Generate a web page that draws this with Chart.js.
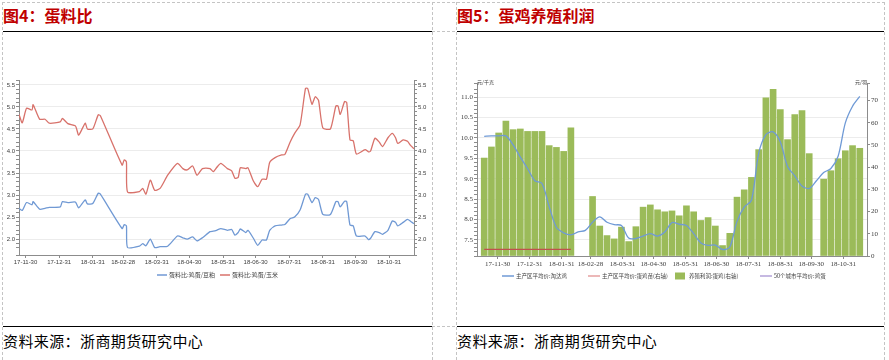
<!DOCTYPE html>
<html>
<head>
<meta charset="utf-8">
<script src="https://cdn.jsdelivr.net/npm/chart.js@4.4.1/dist/chart.umd.min.js"></script>
<style>
  body { margin: 0; width: 889px; height: 360px; background: #fff; position: relative; overflow: hidden; font-family: "Noto Sans CJK SC", sans-serif; }
  .title { position: absolute; top: 5px; font-size: 16px; font-weight: bold; color: #c00000; line-height: 20px; white-space: nowrap; }
  .src { position: absolute; top: 331px; font-size: 15px; color: #000; line-height: 20px; letter-spacing: 0.4px; white-space: nowrap; }
  canvas { position: absolute; }
  svg { position: absolute; left: 0; top: 0; }
</style>
</head>
<body>
<svg width="889" height="360">
  <g stroke="#c4c4c4" stroke-width="1" stroke-dasharray="3,2" fill="none">
    <line x1="2" y1="2.5" x2="885" y2="2.5"/>
    <line x1="2.5" y1="2" x2="2.5" y2="360"/>
    <line x1="432.5" y1="2" x2="432.5" y2="360"/>
    <line x1="456.5" y1="2" x2="456.5" y2="360"/>
    <line x1="884.5" y1="2" x2="884.5" y2="360"/>
    <line x1="432" y1="31.5" x2="456" y2="31.5"/>
    <line x1="432" y1="326.5" x2="456" y2="326.5"/>
  </g>
  <g stroke="#000" stroke-width="1.2">
    <line x1="3" y1="31.5" x2="432" y2="31.5"/>
    <line x1="457" y1="31.5" x2="884" y2="31.5"/>
    <line x1="3" y1="326.5" x2="432" y2="326.5"/>
    <line x1="457" y1="326.5" x2="884" y2="326.5"/>
  </g>
</svg>
<div class="title" style="left:3px">图4：蛋料比</div>
<div class="title" style="left:457px">图5：蛋鸡养殖利润</div>
<div class="src" style="left:3px">资料来源：浙商期货研究中心</div>
<div class="src" style="left:457px">资料来源：浙商期货研究中心</div>
<canvas id="ratioChart" width="429" height="292" style="left:3px;top:33px"></canvas>
<canvas id="profitChart" width="427" height="292" style="left:457px;top:33px"></canvas>
<script>
// 图4 蛋料比
const ratioDates = [
  '2017-11-24','2017-11-27','2017-12-01','2017-12-06','2017-12-07','2017-12-13','2017-12-18','2017-12-22',
  '2018-01-01','2018-01-03','2018-01-08','2018-01-15','2018-01-18','2018-01-24','2018-01-26','2018-01-31',
  '2018-02-05','2018-02-07','2018-02-27','2018-03-01','2018-03-03','2018-03-04','2018-03-15','2018-03-18',
  '2018-03-21','2018-03-25','2018-03-29','2018-04-03','2018-04-10','2018-04-19','2018-04-24','2018-04-28',
  '2018-05-03','2018-05-07','2018-05-12','2018-05-19','2018-05-22','2018-05-25','2018-05-29','2018-06-04',
  '2018-06-08','2018-06-11','2018-06-14','2018-06-16','2018-06-21','2018-06-23','2018-06-28','2018-07-02',
  '2018-07-06','2018-07-10','2018-07-13','2018-07-18','2018-07-24','2018-07-27','2018-08-01','2018-08-05',
  '2018-08-10','2018-08-15','2018-08-17','2018-08-21','2018-08-24','2018-08-27','2018-08-31','2018-09-07',
  '2018-09-12','2018-09-14','2018-09-16','2018-09-20','2018-09-22','2018-09-25','2018-09-28','2018-10-01',
  '2018-10-09','2018-10-12','2018-10-14','2018-10-18','2018-10-22','2018-10-25','2018-10-30','2018-11-03',
  '2018-11-06','2018-11-08','2018-11-13','2018-11-17','2018-11-20','2018-11-23'
];
// 蛋料比:鸡蛋/豆粕
const eggSoymeal = [
  2.70,2.65,2.83,2.78,2.85,2.68,2.70,2.72,
  2.73,2.85,2.83,2.84,2.71,2.89,2.80,2.81,
  3.04,3.02,2.24,2.33,2.30,1.81,1.84,1.90,
  1.85,2.00,1.81,1.83,1.84,2.07,2.03,2.00,
  2.05,1.96,2.03,2.17,2.18,2.20,2.24,2.20,
  2.22,2.09,2.15,2.23,2.15,2.20,2.02,1.86,
  1.98,1.98,2.20,2.30,2.32,2.33,2.47,2.50,
  2.66,3.02,3.02,2.83,2.94,2.90,2.56,2.56,
  2.85,2.85,2.73,2.86,2.85,2.32,2.30,2.07,
  2.07,1.99,2.02,2.17,2.15,2.11,2.20,2.41,
  2.38,2.30,2.38,2.45,2.40,2.35
];
// 蛋料比:鸡蛋/玉米
const eggCorn = [
  4.83,4.64,4.97,4.93,5.05,4.72,4.72,4.63,
  4.66,4.74,4.62,4.57,4.36,4.63,4.50,4.50,
  4.82,4.80,3.68,3.80,3.75,3.07,3.08,3.15,
  3.02,3.34,3.11,3.15,3.45,3.72,3.60,3.57,
  3.66,3.45,3.60,3.60,3.53,3.62,3.72,3.60,
  3.55,3.38,3.40,3.62,3.60,3.62,3.32,3.19,
  3.36,3.36,3.74,3.85,3.91,3.92,4.21,4.40,
  4.59,5.42,5.42,5.06,5.23,5.15,4.52,4.50,
  5.02,5.02,4.83,5.12,5.10,4.25,4.23,3.93,
  4.03,3.98,4.00,4.29,4.20,4.10,4.30,4.40,
  4.30,4.17,4.25,4.22,4.12,4.05
];

// 图5 蛋鸡养殖利润 (weekly)
const weekDates = [
  '2017-11-17','2017-11-24','2017-12-01','2017-12-08','2017-12-15','2017-12-22','2017-12-29',
  '2018-01-05','2018-01-12','2018-01-19','2018-01-26','2018-02-02','2018-02-09','2018-02-16',
  '2018-02-23','2018-03-02','2018-03-09','2018-03-16','2018-03-23','2018-03-30','2018-04-06',
  '2018-04-13','2018-04-20','2018-04-27','2018-05-04','2018-05-11','2018-05-18','2018-05-25',
  '2018-06-01','2018-06-08','2018-06-15','2018-06-22','2018-06-29','2018-07-06','2018-07-13',
  '2018-07-20','2018-07-27','2018-08-03','2018-08-10','2018-08-17','2018-08-24','2018-08-31',
  '2018-09-07','2018-09-14','2018-09-21','2018-09-28','2018-10-05','2018-10-12','2018-10-19',
  '2018-10-26','2018-11-02','2018-11-09','2018-11-16'
];
// 主产区平均价:淘汰鸡 (元/千克, left axis)
const cullHenPrice = [
  10.04,10.05,10.05,10.05,9.83,9.53,9.25,8.95,8.88,8.31,
  7.80,7.67,7.62,7.69,7.73,7.93,8.06,7.93,7.87,7.85,
  7.54,7.53,7.59,7.65,7.59,7.69,7.92,7.88,7.85,7.65,
  7.42,7.36,7.37,7.26,7.32,7.95,8.30,8.47,9.62,10.08,
  10.15,9.90,9.30,9.07,8.82,8.76,8.95,9.15,9.25,9.55,
  10.37,10.78,11.02
];
// 主产区平均价:蛋鸡苗 (右轴), only the first weeks are shown
const chickPrice = [3.0,3.0,3.0,3.0,3.0,3.0,3.0,3.0,3.0,3.0,3.0,3.0,3.0];
// 养殖利润:蛋鸡 (右轴)
const layerProfit = [
  44.1,49.1,55.4,60.7,56.9,57.2,56.1,56.1,56.1,49.7,
  48.9,47.1,57.7,null,null,26.8,13.5,9.2,7.7,13.0,
  6.5,13.2,22.0,23.0,20.8,19.9,20.3,18.1,22.6,19.9,
  16.0,17.3,13.5,4.7,10.2,26.5,29.8,35.4,47.9,71.2,
  75.0,65.9,52.4,63.7,65.5,46.1,null,34.6,38.4,43.8,
  47.4,49.7,48.5
];
// 50个城市平均价:鸡蛋 (no visible values)
const eggPrice50 = [];

const monthEnds = ['2017-11-30','2017-12-31','2018-01-31','2018-02-28','2018-03-31','2018-04-30',
  '2018-05-31','2018-06-30','2018-07-31','2018-08-31','2018-09-30','2018-10-31'];
const monthLabels = ['17-11-30','17-12-31','18-01-31','18-02-28','18-03-31','18-04-30',
  '18-05-31','18-06-30','18-07-31','18-08-31','18-09-30','18-10-31'];

const day = s => Date.parse(s) / 864e5;
const points = (dates, vals) => vals.map((v, i) => ({ x: day(dates[i]), y: v }));
const isStep = (v, step) => Math.abs(v / step - Math.round(v / step)) < 1e-6;

const sans = "'Liberation Sans','Noto Sans CJK SC',sans-serif";
const serif = "'Liberation Serif','Noto Sans CJK SC',serif";

function dateAxis(min, max, font) {
  return {
    type: 'linear', min: day(min), max: day(max), offset: false,
    afterBuildTicks: s => { s.ticks = monthEnds.map(d => ({ value: day(d) })); },
    afterFit: s => { s.height = 14; },
    ticks: { autoSkip: false, maxRotation: 0, padding: 1, font, color: '#404040',
      callback: (v, i) => monthLabels[i] },
    grid: { offset: false, drawOnChartArea: false, tickLength: 3, tickColor: '#8c8c8c' },
    border: { color: '#8c8c8c' }
  };
}

function valueAxis(position, min, max, step, major, digits, font, width, onChart) {
  return {
    position, min, max,
    afterFit: s => { s.width = width; },
    ticks: { stepSize: step, autoSkip: false, padding: 1, font, color: '#404040',
      callback: v => isStep(v, major) ? v.toFixed(digits) : '' },
    grid: { drawOnChartArea: onChart, tickLength: 3, tickColor: '#8c8c8c',
      color: c => (c.tick && isStep(c.tick.value, major)) ? '#ececec' : 'rgba(0,0,0,0)' },
    border: { color: '#8c8c8c' }
  };
}

// legend laid out in fixed columns like the original
const colLegend = {
  id: 'colLegend',
  afterDraw(chart, args, o) {
    const ctx = chart.ctx;
    ctx.save();
    ctx.font = o.font;
    ctx.textBaseline = 'middle';
    chart.data.datasets.forEach((ds, i) => {
      const x = o.x[i], y = o.y;
      if (ds.type === 'bar') {
        ctx.fillStyle = ds.backgroundColor;
        ctx.fillRect(x, y - 3.5, o.len - 2, 7);
      } else {
        ctx.strokeStyle = ds.legendColor || ds.borderColor;
        ctx.lineWidth = 1.5;
        ctx.beginPath();
        ctx.moveTo(x, y);
        ctx.lineTo(x + o.len, y);
        ctx.stroke();
      }
      ctx.fillStyle = '#404040';
      ctx.fillText(ds.label, x + o.len + 2, y);
    });
    ctx.restore();
  }
};

const unitLabels = {
  id: 'unitLabels',
  afterDraw(chart, args, o) {
    if (!o.left) return;
    const ctx = chart.ctx, a = chart.chartArea;
    ctx.save();
    ctx.font = "5px 'Noto Sans CJK SC'";
    ctx.fillStyle = '#404040';
    ctx.textBaseline = 'middle';
    ctx.textAlign = 'left';
    ctx.fillText(o.left, a.left, a.top - 1);
    ctx.textAlign = 'right';
    ctx.fillText(o.right, a.right, a.top - 1);
    ctx.restore();
  }
};

Chart.register(colLegend, unitLabels);

const tickSans = { family: sans, size: 6 };
const tickSerif = { family: serif, size: 7 };

new Chart(document.getElementById('ratioChart'), {
  type: 'line',
  data: {
    datasets: [
      { label: '蛋料比:鸡蛋/豆粕', data: points(ratioDates, eggSoymeal), yAxisID: 'y',
        borderColor: '#7099d4', borderWidth: 1.3, pointRadius: 0, tension: 0.2 },
      { label: '蛋料比:鸡蛋/玉米', data: points(ratioDates, eggCorn), yAxisID: 'y2',
        borderColor: '#d8726b', borderWidth: 1.3, pointRadius: 0, tension: 0.2 }
    ]
  },
  options: {
    responsive: false,
    animation: false,
    layout: { padding: { top: 47, bottom: 56, left: 0, right: 0 } },
    scales: {
      x: dateAxis('2017-11-24', '2018-11-23', tickSans),
      y: valueAxis('left', 1.64, 5.61, 0.1, 0.5, 1, tickSans, 16, true),
      y2: valueAxis('right', 1.64, 5.61, 0.1, 0.5, 1, tickSans, 18, false)
    },
    plugins: {
      legend: { display: false },
      tooltip: { enabled: false },
      colLegend: { x: [154, 217], y: 242, len: 10, font: "6px 'Noto Sans CJK SC'" }
    }
  }
});

new Chart(document.getElementById('profitChart'), {
  type: 'bar',
  data: {
    datasets: [
      { type: 'line', label: '主产区平均价:淘汰鸡', data: points(weekDates, cullHenPrice), yAxisID: 'y',
        borderColor: '#6f9ad6', borderWidth: 1.3, pointRadius: 0, tension: 0.3, order: 1 },
      { type: 'line', label: '主产区平均价:蛋鸡苗(右轴)', data: points(weekDates, chickPrice), yAxisID: 'y2',
        borderColor: '#c0504d', legendColor: '#e6a0a0', borderWidth: 1.2, pointRadius: 0, order: 1 },
      { type: 'bar', label: '养殖利润:蛋鸡(右轴)', data: points(weekDates, layerProfit), yAxisID: 'y2',
        backgroundColor: '#9bbb59', barThickness: 6, order: 2 },
      { type: 'line', label: '50个城市平均价:鸡蛋', data: points(weekDates, eggPrice50), yAxisID: 'y',
        borderColor: '#b3a2d8', borderWidth: 1.3, pointRadius: 0, order: 1 }
    ]
  },
  options: {
    responsive: false,
    animation: false,
    layout: { padding: { top: 50, bottom: 55, left: 0, right: 0 } },
    scales: {
      x: dateAxis('2017-11-10', '2018-11-23', tickSerif),
      y: valueAxis('left', 7.1, 11.35, 0.1, 0.5, 1, tickSerif, 20, true),
      y2: valueAxis('right', 0, 77.9, 10, 10, 0, tickSerif, 17, false)
    },
    plugins: {
      legend: { display: false },
      tooltip: { enabled: false },
      colLegend: { x: [45, 131, 218, 303], y: 243, len: 12, font: "5.5px 'Noto Sans CJK SC'" },
      unitLabels: { left: '元/千克', right: '元/羽' }
    }
  }
});
</script>
</body>
</html>
